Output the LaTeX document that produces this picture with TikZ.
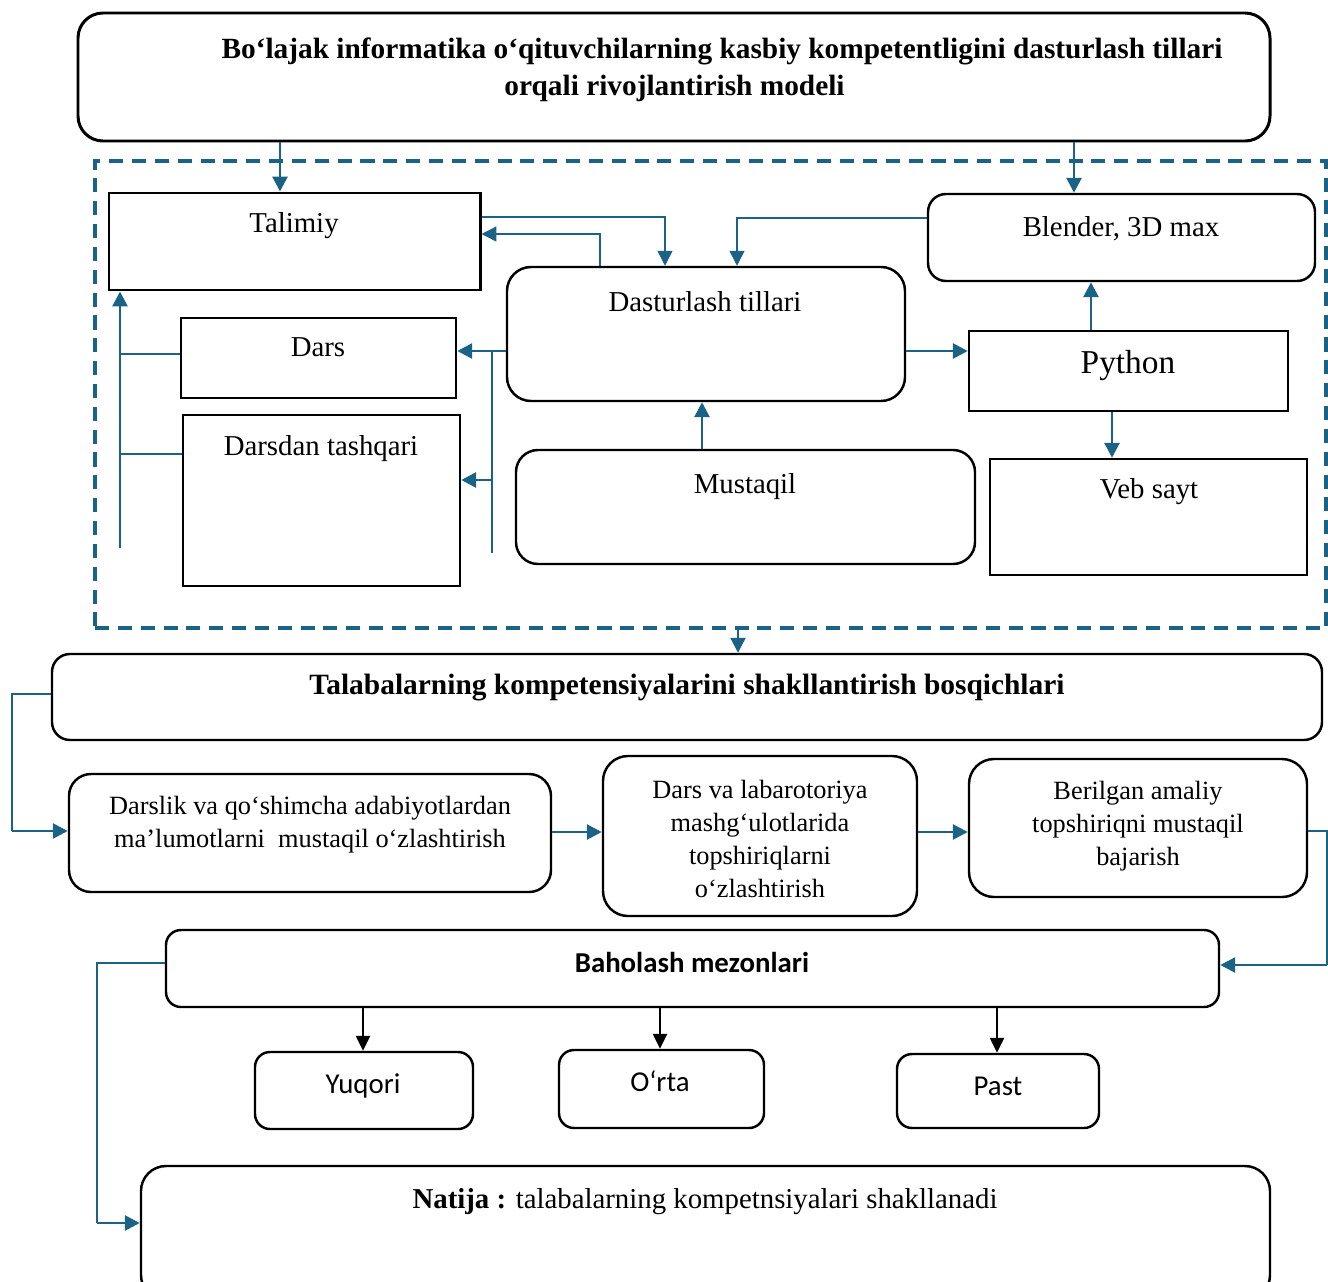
\documentclass[tikz,border=0pt]{standalone}
\usepackage{fontspec}
\setmainfont{Liberation Serif}
\newfontfamily\carfont{Carlito}
\usetikzlibrary{arrows.meta}
\definecolor{ac}{RGB}{27,98,135}
\begin{document}
\begin{tikzpicture}[x=0.02cm,y=-0.02cm,
  bx/.style 2 args={minimum width=#1*0.02cm, minimum height=#2*0.02cm, inner sep=0pt, draw=black, line width=1.4pt},
  rnd/.style={rounded corners=#1*0.02cm},
  txt/.style={inner sep=0pt, font=\fontsize{16.4}{20}\selectfont},
  stxt/.style={inner sep=0pt, align=center, font=\fontsize{15}{18.7}\selectfont},
  ctxt/.style={inner sep=0pt, font=\carfont\fontsize{16.4}{20}\selectfont},
  arr/.style={draw=ac, line width=1.6pt, -{Triangle[length=8.5pt,width=8.5pt]}},
  arrthin/.style={draw=ac, line width=0.8pt, -{Triangle[length=8.5pt,width=8.5pt]}},
  thinl/.style={draw=ac, line width=0.8pt},
  barr/.style={draw=black, line width=1.2pt, -{Triangle[length=8.5pt,width=8pt]}}
]
\useasboundingbox (0,0) rectangle (1328,1281);

% ---- title ----
\node[bx={1192}{128}, rnd=25, line width=1.7pt] (title) at (674,77) {};
\node[inner sep=0pt, align=center, font=\bfseries\fontsize{16.7}{21}\selectfont] (titlet) at (722,69.5)
  {Bo‘lajak informatika o‘qituvchilarning kasbiy kompetentligini dasturlash tillari\\orqali rivojlantirish modeli\hspace*{54pt}};

% ---- dashed frame ----
\node[bx={1231}{467}, draw=ac, line width=1.8pt, dash pattern=on 8pt off 5pt] (frame) at (710.5,394.5) {};

% ---- upper block nodes ----
\node[bx={371}{97}, line width=1.7pt] (talimiy) at (294.5,241.5) {};
\node[txt, anchor=base] (talimiyt) at (294,232) {Talimiy};
\node[bx={275}{80}] (dars) at (318.5,358) {};
\node[txt, anchor=base] (darst) at (318,356) {Dars};
\node[bx={277}{171}] (darsdan) at (321.5,500.5) {};
\node[txt, anchor=base] (darsdant) at (321,455) {Darsdan tashqari};
\node[bx={398}{134}, rnd=24] (dast) at (706,334) {};
\node[txt, anchor=base] (dastt) at (705,311) {Dasturlash tillari};
\node[bx={459}{114}, rnd=22] (must) at (745.5,507) {};
\node[txt, anchor=base] (mustt) at (745,493) {Mustaqil};
\node[bx={387}{87}, rnd=18] (blender) at (1121.5,237.5) {};
\node[txt, anchor=base] (blendert) at (1121,236) {Blender, 3D max};
\node[bx={319}{80}] (python) at (1128.5,371) {};
\node[inner sep=0pt, font=\fontsize{19}{23}\selectfont, anchor=base] (pythont) at (1128,373) {Python};
\node[bx={317}{116}] (veb) at (1148.5,517) {};
\node[txt, anchor=base] (vebt) at (1149,498) {Veb sayt};

% ---- connectors upper block ----
\draw[arr] (title.south -| 280,0) -- (talimiy.north -| 280,0);
\draw[arr] (title.south -| 1074,0) -- (blender.north -| 1074,0);
\draw[arrthin] (talimiy.east |- 0,217) -| (dast.north -| 665,0);
\draw[arrthin] (dast.north -| 600,0) |- (talimiy.east |- 0,234);
\draw[arrthin] (blender.west |- 0,218) -| (dast.north -| 737,0);
\draw[arr] (dast.west |- 0,351) -- (dars.east |- 0,351);
\coordinate (ja) at (492,351);
\coordinate (jb) at (492,553);
\coordinate (jc) at (492,480);
\draw[thinl] (ja) -- (jb);
\draw[arr] (jc) -- (darsdan.east |- jc);
\draw[arr] (dast.east |- 0,351) -- (python.west |- 0,351);
\draw[arr] (python.north -| 1091,0) -- (blender.south -| 1091,0);
\draw[arr] (python.south -| 1112,0) -- (veb.north -| 1112,0);
\draw[arr] (must.north -| 702,0) -- (dast.south -| 702,0);
\coordinate (lb) at (120,548);
\draw[arr] (lb) -- (talimiy.south -| lb);
\draw[thinl] (dars.west |- 0,354) -- (120,354);
\draw[thinl] (darsdan.west |- 0,454) -- (120,454);

% ---- stages ----
\node[bx={1270}{86}, rnd=18] (talab) at (687,697) {};
\node[txt, anchor=base, font=\bfseries\fontsize{16.75}{20}\selectfont] (talabt) at (687,694)
  {Talabalarning kompetensiyalarini shakllantirish bosqichlari};
\draw[arr, line width=1.2pt] (frame.south -| 738,0) -- (talab.north -| 738,0);

\node[bx={482}{118}, rnd=22] (sa) at (310,833) {};
\node[stxt] (sat) at (310,824.5) {Darslik va qo‘shimcha adabiyotlardan\\ma’lumotlarni\ \ mustaqil o‘zlashtirish};
\node[bx={314}{160}, rnd=25] (sb) at (760,836) {};
\node[stxt] (sbt) at (760,839) {Dars va labarotoriya\\mashg‘ulotlarida\\topshiriqlarni\\o‘zlashtirish};
\node[bx={338}{138}, rnd=25] (sc) at (1138,828) {};
\node[stxt] (sct) at (1138,826.5) {Berilgan amaliy\\topshiriqni mustaqil\\bajarish};

\coordinate (la) at (12,831);
\draw[thinl] (talab.west |- 0,694) -| (la);
\draw[arr] (la) -- (sa.west |- la);
\draw[arr] (sa.east |- 0,832) -- (sb.west |- 0,832);
\draw[arr] (sb.east |- 0,832) -- (sc.west |- 0,832);

% ---- assessment ----
\node[bx={1053}{77}, rnd=15] (bah) at (692.5,968.5) {};
\node[ctxt, anchor=base, font=\carfont\bfseries\fontsize{16.4}{20}\selectfont] (baht) at (692,972) {Baholash mezonlari};
\coordinate (ra) at (1327,965);
\draw[thinl] (sc.east |- 0,831) -| (ra);
\draw[arr] (ra) -- (bah.east |- ra);

\node[bx={218}{77}, rnd=15] (yuq) at (364,1090.5) {};
\node[ctxt, anchor=base] (yuqt) at (363,1093) {Yuqori};
\node[bx={205}{78}, rnd=15] (orta) at (661.5,1089) {};
\node[ctxt, anchor=base] (ortat) at (660,1091) {O‘rta};
\node[bx={202}{74}, rnd=15] (past) at (998,1091) {};
\node[ctxt, anchor=base] (pastt) at (998,1095) {Past};
\draw[barr] (bah.south -| 363,0) -- (yuq.north -| 363,0);
\draw[barr] (bah.south -| 660,0) -- (orta.north -| 660,0);
\draw[barr] (bah.south -| 997,0) -- (past.north -| 997,0);

\node[bx={1129}{134}, rnd=25] (natija) at (705.5,1233) {};
\node[txt, anchor=base] (natijat) at (705,1208) {\textbf{Natija :} talabalarning kompetnsiyalari shakllanadi};
\coordinate (nb) at (97,1223);
\draw[thinl] (bah.west |- 0,963) -| (nb);
\draw[arr] (nb) -- (natija.west |- nb);
\end{tikzpicture}
\end{document}
